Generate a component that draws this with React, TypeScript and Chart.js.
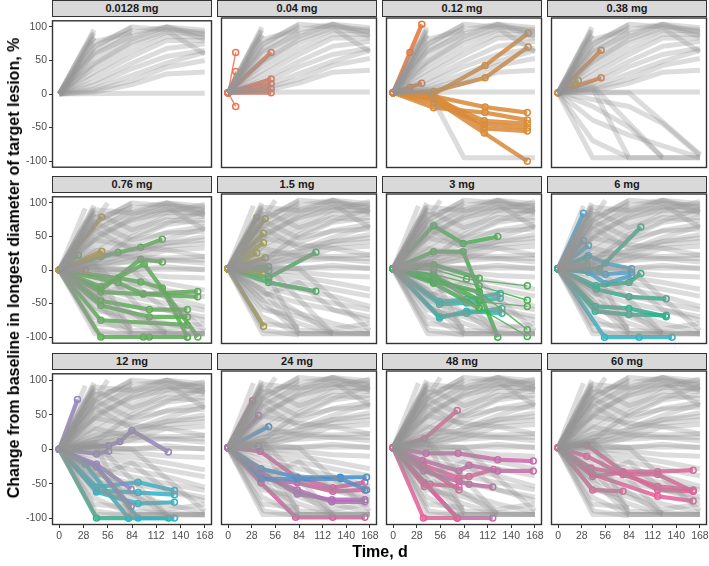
import React, { useEffect, useRef } from "react";
import { Chart, registerables } from "chart.js";
Chart.register(...registerables);

// ---------- data ----------
const PANEL_TITLES = ["0.0128 mg", "0.04 mg", "0.12 mg", "0.38 mg", "0.76 mg", "1.5 mg", "3 mg", "6 mg", "12 mg", "24 mg", "48 mg", "60 mg"];
const X_TICKS = [0, 28, 56, 84, 112, 140, 168];
const Y_TICKS = [-100, -50, 0, 50, 100];
const X_TITLE = "Time, d";
const Y_TITLE = "Change from baseline in longest diameter of target lesion, %";

type Pt = [number, number];
type Traj = { g: string; thin?: boolean; pts: Pt[] };

// background (all patients) trajectories, [day, % change]
const GRAY_UP: Pt[][] = [
  [[0, 0], [40, 96]],
  [[0, 0], [39, 90]],
  [[0, 0], [40, 84]],
  [[0, 0], [38, 78]],
  [[0, 0], [41, 72], [84, 100]],
  [[0, 0], [41, 64], [84, 96]],
  [[0, 0], [40, 56], [84, 90]],
  [[0, 0], [41, 48], [84, 82], [124, 100], [168, 95]],
  [[0, 0], [40, 40], [83, 72], [124, 92], [168, 90]],
  [[0, 0], [41, 33], [84, 64], [124, 86], [168, 85]],
  [[0, 0], [40, 26], [84, 56], [124, 80], [168, 80]],
  [[0, 0], [41, 19], [84, 46], [124, 68], [168, 75]],
  [[0, 0], [40, 13], [84, 38], [124, 56], [168, 65]],
  [[0, 0], [41, 8], [84, 28], [124, 46], [168, 62]],
  [[0, 0], [40, 5], [84, 20], [124, 40], [168, 50]],
  [[0, 0], [41, 3], [84, 14], [124, 30], [168, 33]],
  [[0, 0], [84, 1], [168, 1]],
  [[0, 0], [41, 70], [84, 100], [124, 96], [168, 92]],
  [[0, 0], [41, 78], [84, 92], [124, 100], [168, 88]],
  [[0, 0], [40, 60], [84, 86], [124, 100], [168, 82]],
  [[0, 0], [41, 45], [84, 78], [124, 94], [168, 60]],
  [[0, 0], [20, 40], [40, 92]],
  [[0, 0], [30, 70], [41, 85]],
];

const GRAY_UP_ALL: Pt[][] = [
  [[0, 0], [41, 85], [84, 60], [124, 75], [168, 70]],
  [[0, 0], [41, 70], [84, 45], [124, 55], [168, 58]],
  [[0, 0], [41, 60], [84, 30], [124, 40], [168, 45]],
  [[0, 0], [41, 45], [84, 35], [124, 30], [168, 20]],
  [[0, 0], [41, 30], [84, 18], [124, 15], [168, 15]],
  [[0, 0], [41, 20], [84, 25], [124, 35], [168, 40]],
  [[0, 0], [41, 10], [84, 50], [124, 70], [168, 88]],
  [[0, 0], [41, 50], [84, 75], [168, 98]],
  [[0, 0], [41, 90], [84, 85], [124, 90], [168, 82]],
  [[0, 0], [30, 92]],
  [[0, 0], [56, 100]],
];

const GRAY_DOWN_012: Pt[][] = [
  [[0, 0], [41, 5], [84, -95], [168, -95]],
];

const GRAY_DOWN_038: Pt[][] = [
  [[0, 0], [41, -95], [168, -95]],
  [[0, 0], [41, 6], [84, -95], [124, -95]],
  [[0, 0], [41, 10], [124, -95], [168, -95]],
  [[0, 0], [41, -20], [84, -50], [124, -95]],
  [[0, 0], [84, 0], [168, -90]],
  [[0, 0], [41, -40], [84, -62], [168, -95]],
  [[0, 0], [84, -20], [124, -45], [168, -92]],
  [[0, 0], [41, -70], [84, -95]],
];

const GRAY_DOWN_ALL: Pt[][] = [
  [[0, 0], [41, -95], [84, -95], [124, -95], [168, -95]],
  [[0, 0], [42, -90], [84, -97]],
  [[0, 0], [40, -70], [84, -95], [168, -95]],
  [[0, 0], [41, -55], [84, -80], [124, -95]],
  [[0, 0], [40, -45], [84, -65], [124, -80], [168, -92]],
  [[0, 0], [41, -35], [84, -50], [124, -60], [168, -75]],
  [[0, 0], [40, -25], [84, -40], [124, -50], [168, -60]],
  [[0, 0], [41, -18], [84, -30], [124, -40], [168, -55]],
  [[0, 0], [40, -10], [84, -20], [124, -30], [168, -40]],
  [[0, 0], [41, -5], [84, -12], [124, -20], [168, -30]],
  [[0, 0], [40, -2], [84, -5], [124, -10], [168, -12]],
  [[0, 0], [41, 5], [84, 0], [124, 5], [168, 0]],
  [[0, 0], [40, 10], [84, 12], [124, 15], [168, 10]],
  [[0, 0], [41, 15], [84, 20], [124, 18], [168, 20]],
  [[0, 0], [84, -95]],
  [[0, 0], [124, -95]],
  [[0, 0], [40, -30], [84, -90], [168, -95]],
  [[0, 0], [41, -60], [84, -70], [124, -88], [168, -80]],
  [[0, 0], [40, -80], [84, -85]],
  [[0, 0], [41, -40], [84, -20], [124, -60], [168, -70]],
  [[0, 0], [41, 6], [84, -95], [124, -95]],
  [[0, 0], [41, 10], [124, -95], [168, -95]],
  [[0, 0], [84, 0], [168, -90]],
];

// coloured trajectories per dose cohort
const T_00128: Traj[] = [];
const T_004: Traj[] = [
  { g: "salmon", thin: true, pts: [[0, 0], [9, 59]] },
  { g: "salmon", thin: true, pts: [[0, 0], [9, 31]] },
  { g: "salmon", thin: true, pts: [[0, 0], [9, -20]] },
  { g: "salmon", pts: [[0, 0], [51, 59]] },
  { g: "salmon", pts: [[0, 0], [51, 20]] },
  { g: "salmon", pts: [[0, 0], [51, 13]] },
  { g: "salmon", pts: [[0, 0], [51, 6]] },
  { g: "salmon", pts: [[0, 0], [51, 0]] },
];
const T_012: Traj[] = [
  { g: "redorange", pts: [[0, 0], [20, 59], [34, 100]] },
  { g: "redorange", pts: [[0, 0], [20, 8], [34, 14]] },
  { g: "orange", pts: [[0, 0], [48, -2], [109, 40], [160, 87]] },
  { g: "orange", pts: [[0, 0], [48, 2], [109, 22], [160, 67]] },
  { g: "orange", pts: [[0, 0], [48, -5], [109, -21], [159, -29]] },
  { g: "orange", pts: [[0, 0], [48, -22], [109, -29], [159, -40]] },
  { g: "orange", pts: [[0, 0], [48, -8], [108, -41], [159, -45]] },
  { g: "orange", pts: [[0, 0], [48, -15], [108, -46], [159, -51]] },
  { g: "orange", pts: [[0, 0], [48, -3], [108, -52], [159, -56]] },
  { g: "orange", pts: [[0, 0], [48, -10], [108, -59], [159, -100]] },
];
const T_038: Traj[] = [
  { g: "orange2", pts: [[0, 0], [51, 62]] },
  { g: "orange2", pts: [[0, 0], [51, 22]] },
  { g: "gold", pts: [[0, 0], [24, 18]] },
  { g: "gold", pts: [[0, 0], [20, 11]] },
];
const T_076: Traj[] = [
  { g: "gold", pts: [[0, 0], [49, 79]] },
  { g: "gold", pts: [[0, 0], [49, 28]] },
  { g: "gold", pts: [[0, 0], [47, 23]] },
  { g: "orange2", pts: [[0, 0], [30, 0]] },
  { g: "green", pts: [[0, 0], [22, 22]] },
  { g: "green", pts: [[0, 0], [48, 20], [68, 26], [94, 34], [119, 46]] },
  { g: "green", pts: [[0, 0], [48, -30], [94, 16], [119, 12]] },
  { g: "green", pts: [[0, 0], [48, -25], [98, 9], [160, -100]] },
  { g: "green", pts: [[0, 0], [68, -12], [94, -18], [119, -27], [148, -100]] },
  { g: "green", pts: [[0, 0], [68, -19], [97, -36], [160, -32]] },
  { g: "green", pts: [[0, 0], [48, -33], [97, -36], [160, -40]] },
  { g: "green", pts: [[0, 0], [48, -46], [104, -59], [148, -59]] },
  { g: "green", pts: [[0, 0], [48, -53], [104, -70], [148, -70]] },
  { g: "green", pts: [[0, 0], [48, -75], [148, -82]] },
  { g: "green", pts: [[0, 0], [48, -100], [97, -100], [104, -100], [148, -100]] },
];
const T_15: Traj[] = [
  { g: "olive", pts: [[0, 0], [34, 75]] },
  { g: "olive", pts: [[0, 0], [44, 73]] },
  { g: "olive", pts: [[0, 0], [42, 52]] },
  { g: "olive", pts: [[0, 0], [42, 38]] },
  { g: "olive", pts: [[0, 0], [34, 23]] },
  { g: "olive", pts: [[0, 0], [44, 16]] },
  { g: "olive", pts: [[0, 0], [41, -6]] },
  { g: "olive", pts: [[0, 0], [42, -84]] },
  { g: "green2", pts: [[0, 0], [48, 3]] },
  { g: "green2", pts: [[0, 0], [48, -3]] },
  { g: "green2", pts: [[0, 0], [48, -13], [104, 24]] },
  { g: "green2", pts: [[0, 0], [48, -20], [104, -33]] },
];
const T_3: Traj[] = [
  { g: "green3", pts: [[0, 0], [48, 63], [83, 37], [124, 47]] },
  { g: "green3", pts: [[0, 0], [48, 25], [83, 25], [124, -100]] },
  { g: "green3", pts: [[0, 0], [27, 3], [48, 6], [102, -14]] },
  { g: "green3", pts: [[0, 0], [48, -17], [102, -34]] },
  { g: "green3", pts: [[0, 0], [48, -10], [102, -46]] },
  { g: "green3", pts: [[0, 0], [48, -21], [102, -58]] },
  { g: "green3", thin: true, pts: [[0, 0], [48, -1], [87, -15], [159, -25]] },
  { g: "green3", thin: true, pts: [[0, 0], [48, -8], [102, -25], [159, -46]] },
  { g: "green3", thin: true, pts: [[0, 0], [48, -17], [102, -48], [159, -55]] },
  { g: "green3", thin: true, pts: [[0, 0], [48, -21], [102, -34], [159, -89]] },
  { g: "green3", thin: true, pts: [[0, 0], [48, -10], [102, -57], [159, -99]] },
  { g: "teal", pts: [[0, 0], [55, -48], [87, -45], [127, -36]] },
  { g: "teal", pts: [[0, 0], [55, -52], [87, -50], [127, -43]] },
  { g: "teal", pts: [[0, 0], [55, -70], [87, -65], [129, -58]] },
  { g: "teal", pts: [[0, 0], [55, -72], [87, -62], [129, -65]] },
];
const T_6: Traj[] = [
  { g: "tealgreen", pts: [[0, 0], [34, 16]] },
  { g: "tealgreen", pts: [[0, 0], [34, 6]] },
  { g: "tealgreen", pts: [[0, 0], [32, -2]] },
  { g: "tealgreen", pts: [[0, 0], [49, 0], [98, 61]] },
  { g: "tealgreen", pts: [[0, 0], [45, -30], [84, -41], [128, -44]] },
  { g: "tealgreen", pts: [[0, 0], [44, -55], [84, -58], [128, -70]] },
  { g: "tealgreen", pts: [[0, 0], [44, -62], [84, -67], [128, -68]] },
  { g: "tealgreen", pts: [[0, 0], [45, -25], [84, -20], [98, -7]] },
  { g: "blue", pts: [[0, 0], [30, 81]] },
  { g: "blue", pts: [[0, 0], [30, 41]] },
  { g: "blue", pts: [[0, 0], [36, 34]] },
  { g: "blue", pts: [[0, 0], [36, 19], [56, 8], [87, 0]] },
  { g: "blue", pts: [[0, 0], [56, -8], [87, -5]] },
  { g: "blue", pts: [[0, 0], [36, -5], [56, -22], [87, -10]] },
  { g: "cyan", pts: [[0, 0], [55, -100], [96, -100], [135, -100]] },
];
const T_12: Traj[] = [
  { g: "purple", pts: [[0, 0], [21, 72]] },
  { g: "purple", pts: [[0, 0], [57, 5], [70, 11], [84, 27], [126, -4]] },
  { g: "purple", pts: [[0, 0], [43, -7], [57, -3]] },
  { g: "purple", pts: [[0, 0], [43, -22], [83, -58]] },
  { g: "purple", pts: [[0, 0], [43, -26], [83, -83]] },
  { g: "cyan", pts: [[0, 0], [43, -55], [91, -48], [133, -60]] },
  { g: "cyan", pts: [[0, 0], [43, -60], [91, -63], [133, -66]] },
  { g: "cyan", pts: [[0, 0], [43, -62], [91, -79], [133, -77]] },
  { g: "cyan", pts: [[0, 0], [43, -25], [91, -100], [133, -100]] },
  { g: "cyan", pts: [[0, 0], [30, -22], [80, -100]] },
  { g: "tealgreen", pts: [[0, 0], [43, -100], [80, -100], [126, -100]] },
];
const T_24: Traj[] = [
  { g: "pink", pts: [[0, 0], [29, 67]] },
  { g: "violet", pts: [[0, 0], [36, 46]] },
  { g: "blue2", pts: [[0, 0], [48, 30]] },
  { g: "blue2", thin: true, pts: [[0, 0], [36, 2]] },
  { g: "blue2", pts: [[0, 0], [39, -30], [82, -42], [133, -42], [164, -42]] },
  { g: "blue2", pts: [[0, 0], [39, -44], [82, -45], [133, -44], [164, -60]] },
  { g: "pink", pts: [[0, 0], [38, -5], [82, -43], [124, -57], [162, -49]] },
  { g: "pink", pts: [[0, 0], [39, -44], [82, -50], [124, -62], [162, -60]] },
  { g: "violet", pts: [[0, 0], [39, -35], [82, -66], [123, -74], [162, -74]] },
  { g: "violet", pts: [[0, 0], [39, -40], [82, -60], [123, -77], [162, -77]] },
  { g: "pink", pts: [[0, 0], [39, -50], [80, -99], [124, -99], [162, -99]] },
];
const T_48: Traj[] = [
  { g: "pink2", pts: [[0, 0], [37, 13], [76, 53]] },
  { g: "magenta", pts: [[0, 0], [39, -8], [77, -8], [124, -17], [166, -19]] },
  { g: "magenta", pts: [[0, 0], [35, -18], [78, -33], [90, -25], [124, -33], [166, -33]] },
  { g: "pink2", pts: [[0, 0], [36, -25], [78, -43], [90, -41], [119, -31]] },
  { g: "magenta", pts: [[0, 0], [36, -33], [78, -48], [90, -52], [118, -56]] },
  { g: "pink2", pts: [[0, 0], [37, -55], [44, -52], [78, -55]] },
  { g: "pink2", pts: [[0, 0], [78, -60]] },
  { g: "pink2", pts: [[0, 0], [36, -100], [76, -100]] },
  { g: "pink2", pts: [[0, 0], [76, -100]] },
  { g: "magenta", pts: [[0, 0], [37, -50], [76, -100], [118, -100]] },
];
const T_60: Traj[] = [
  { g: "pink2", pts: [[0, 0], [34, 4], [77, -34], [118, -34], [160, -32]] },
  { g: "pink2", pts: [[0, 0], [34, -12], [77, -38], [118, -55], [160, -60]] },
  { g: "pink2", pts: [[0, 0], [39, -29], [77, -38], [118, -38], [160, -62]] },
  { g: "pink2", pts: [[0, 0], [41, -41], [77, -35], [118, -60], [160, -62]] },
  { g: "pink2", pts: [[0, 0], [41, -60], [77, -62]] },
  { g: "pink2", pts: [[0, 0], [41, -38], [118, -69], [160, -76]] },
];

const PANEL_TRAJ: Traj[][] = [T_00128, T_004, T_012, T_038, T_076, T_15, T_3, T_6, T_12, T_24, T_48, T_60];
const GRAY_ROW1 = GRAY_UP;
const GRAY_FULL = [...GRAY_UP, ...GRAY_UP_ALL, ...GRAY_DOWN_ALL];
const PANEL_GRAY: Pt[][][] = [
  GRAY_ROW1,
  GRAY_ROW1,
  [...GRAY_UP, ...GRAY_DOWN_012],
  [...GRAY_UP, ...GRAY_DOWN_038],
  GRAY_FULL, GRAY_FULL, GRAY_FULL, GRAY_FULL,
  GRAY_FULL, GRAY_FULL, GRAY_FULL, GRAY_FULL,
];

// ---------- styling ----------
const GROUP_COLORS: Record<string, string> = {
  salmon: "#EE7352",
  redorange: "#E4783F",
  orange: "#D98C3A",
  orange2: "#E0813C",
  gold: "#C39E33",
  olive: "#A9A52B",
  green: "#56B24F",
  green2: "#3DB55A",
  green3: "#3DB54A",
  teal: "#35B6AC",
  tealgreen: "#2EB38E",
  blue: "#35ABE0",
  cyan: "#2DB6C9",
  purple: "#9884C6",
  violet: "#B46DBB",
  blue2: "#3F8FD6",
  pink: "#DA5FA0",
  magenta: "#CF66AE",
  pink2: "#E8609A",
};
const GRAY = "rgba(150,150,150,0.33)";
const FONT = "'Liberation Sans', Arial, sans-serif";
const COL_LEFT = [52, 217, 382, 547];
const ROW_TOP = [16, 192, 369];
const PW = 160;
const PH = 156;

const borderPlugin = {
  id: "panelBorder",
  afterDraw(chart: any) {
    const a = chart.chartArea;
    const ctx = chart.ctx;
    ctx.save();
    ctx.strokeStyle = "#333333";
    ctx.lineWidth = 1.4;
    ctx.strokeRect(a.left + 0.5, a.top + 0.5, a.right - a.left - 1, a.bottom - a.top - 1);
    ctx.restore();
  },
};

function Panel({ idx }: { idx: number }) {
  const ref = useRef<HTMLCanvasElement>(null);
  const r = Math.floor(idx / 4);
  const c = idx % 4;
  const padL = c === 0 ? 44 : 4;
  const padR = 14;
  const padT = 4;
  const padB = r === 2 ? 24 : 4;
  const W = PW + padL + padR;
  const H = PH + padT + padB;

  useEffect(() => {
    if (!ref.current) return;
    const datasets: any[] = [];
    PANEL_GRAY[idx].forEach((pts) => {
      datasets.push({
        data: pts.map(([x, y]) => ({ x, y })),
        borderColor: GRAY,
        borderWidth: 5,
        pointRadius: 0,
        borderCapStyle: "butt",
        borderJoinStyle: "round",
        tension: 0,
      });
    });
    PANEL_TRAJ[idx].forEach((t) => {
      const col = GROUP_COLORS[t.g];
      datasets.push({
        data: t.pts.map(([x, y]) => ({ x, y })),
        borderColor: col + "E0",
        borderWidth: t.thin ? 1.4 : 4.2,
        pointRadius: 3,
        pointBorderWidth: 1.5,
        pointBorderColor: col,
        pointBackgroundColor: "rgba(255,255,255,0)",
        tension: 0,
      });
    });
    const tickFont = { family: FONT, size: 10.5 };
    const chart = new Chart(ref.current, {
      type: "line",
      data: { datasets },
      options: {
        animation: false,
        responsive: false,
        events: [],
        layout: {
          padding: { left: c === 0 ? 0 : padL, right: padR, top: padT, bottom: r === 2 ? 0 : padB },
        },
        plugins: { legend: { display: false }, tooltip: { enabled: false }, title: { display: false } },
        scales: {
          x: {
            type: "linear",
            display: r === 2,
            min: -8.4,
            max: 176.4,
            afterBuildTicks: (s: any) => {
              s.ticks = X_TICKS.map((v) => ({ value: v }));
            },
            afterFit: (s: any) => {
              s.height = padB;
            },
            grid: { display: true, drawOnChartArea: false, drawTicks: true, tickLength: 3, color: "#333333" },
            border: { display: false },
            ticks: { font: tickFont, color: "#4D4D4D", padding: 2, maxRotation: 0, autoSkip: false },
          },
          y: {
            type: "linear",
            display: c === 0,
            min: -110,
            max: 110,
            afterBuildTicks: (s: any) => {
              s.ticks = Y_TICKS.map((v) => ({ value: v }));
            },
            afterFit: (s: any) => {
              s.width = padL;
            },
            grid: { display: true, drawOnChartArea: false, drawTicks: true, tickLength: 3, color: "#333333" },
            border: { display: false },
            ticks: { font: tickFont, color: "#4D4D4D", padding: 2, autoSkip: false },
          },
        },
      },
      plugins: [borderPlugin],
    } as any);
    return () => chart.destroy();
  }, [idx]);

  return (
    <>
      <div
        style={{
          position: "absolute",
          left: COL_LEFT[c],
          top: ROW_TOP[r] - 16,
          width: PW,
          height: 17,
          boxSizing: "border-box",
          background: "#D9D9D9",
          border: "1.4px solid #333333",
          font: `bold 11px ${FONT}`,
          color: "#1A1A1A",
          textAlign: "center",
          lineHeight: "14px",
        }}
      >
        {PANEL_TITLES[idx]}
      </div>
      <canvas
        ref={ref}
        width={W}
        height={H}
        style={{ position: "absolute", left: COL_LEFT[c] - padL, top: ROW_TOP[r] - padT, width: W, height: H }}
      />
    </>
  );
}

export default function App() {
  return (
    <div style={{ position: "absolute", left: 0, top: 0, width: 709, height: 566, background: "#FFFFFF", fontFamily: FONT, overflow: "hidden" }}>
      {PANEL_TITLES.map((_, i) => (
        <Panel key={i} idx={i} />
      ))}
      <div
        style={{
          position: "absolute",
          left: 14,
          top: 268,
          transform: "translate(-50%, -50%) rotate(-90deg)",
          whiteSpace: "nowrap",
          font: `bold 16px ${FONT}`,
          color: "#000",
        }}
      >
        {Y_TITLE}
      </div>
      <div
        style={{
          position: "absolute",
          left: 380,
          top: 552,
          transform: "translate(-50%, -50%)",
          whiteSpace: "nowrap",
          font: `bold 16px ${FONT}`,
          color: "#000",
        }}
      >
        {X_TITLE}
      </div>
    </div>
  );
}
